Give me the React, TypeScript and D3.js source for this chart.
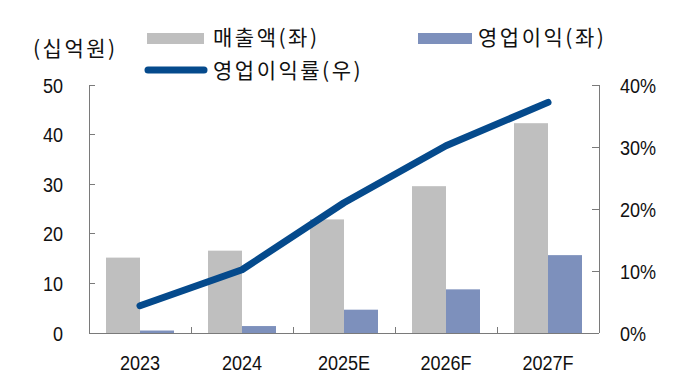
import React from "react";
import * as d3 from "d3";

const categories = ["2023", "2024", "2025E", "2026F", "2027F"];
const revenue = [15.2, 16.6, 22.9, 29.6, 42.3];
const opProfit = [0.5, 1.4, 4.7, 8.8, 15.7];
const opMargin = [0.044, 0.102, 0.21, 0.302, 0.372];
const leftTicks = [0, 10, 20, 30, 40, 50];
const rightTicks = [0, 0.1, 0.2, 0.3, 0.4];
const seriesKeys = ["rev", "op"];

const W = 680;
const H = 385;
const plot = { left: 89, right: 599, top: 85, bottom: 333 };
const GRAY = "#bfbfbf";
const BLUE = "#7d90bc";
const LINE = "#054a8c";
const AXIS = "#7a7a7a";
const NUM_FONT = "'Liberation Sans', Arial, sans-serif";
const KR_FONT = "'Noto Sans CJK KR', 'Noto Sans', sans-serif";

type TProps = {
  x: number;
  y: number;
  anchor?: "start" | "middle" | "end";
  font: string;
  size: number;
  spacing?: number;
  sx?: number;
  children: React.ReactNode;
};

function T({ x, y, anchor = "start", font, size, spacing = 0, sx = 1, children }: TProps) {
  return (
    <text
      transform={`translate(${x},${y}) scale(${sx},1)`}
      textAnchor={anchor}
      dominantBaseline="central"
      fontFamily={font}
      fontSize={size}
      letterSpacing={spacing}
      fill="#111"
    >
      {children}
    </text>
  );
}

export default function App() {
  const x = d3.scaleBand<string>().domain(categories).range([plot.left, plot.right]).padding(0);
  const bw = x.bandwidth();
  const inner = d3.scaleBand<string>().domain(seriesKeys).range([0, bw]).paddingInner(0).paddingOuter(0.5);
  const yL = d3.scaleLinear().domain([0, 50]).range([plot.bottom, plot.top]);
  const yR = d3.scaleLinear().domain([0, 0.4]).range([plot.bottom, plot.top]);
  const fmtPct = d3.format(".0%");

  const line = d3
    .line<number>()
    .x((_, i) => (x(categories[i]) as number) + bw / 2)
    .y((d) => yR(d));

  const NSX = 0.86;

  return (
    <svg width={W} height={H} style={{ position: "absolute", left: 0, top: 0, background: "#fff" }}>
      {categories.map((c, i) => (
        <g key={c}>
          <rect
            x={(x(c) as number) + (inner("rev") as number)}
            y={yL(revenue[i])}
            width={inner.bandwidth()}
            height={yL(0) - yL(revenue[i])}
            fill={GRAY}
          />
          <rect
            x={(x(c) as number) + (inner("op") as number)}
            y={yL(opProfit[i])}
            width={inner.bandwidth()}
            height={yL(0) - yL(opProfit[i])}
            fill={BLUE}
          />
        </g>
      ))}

      <g stroke={AXIS} strokeWidth={1} shapeRendering="crispEdges">
        <line x1={plot.left} x2={plot.left} y1={plot.top} y2={plot.bottom} />
        <line x1={plot.right} x2={plot.right} y1={plot.top} y2={plot.bottom} />
        <line x1={plot.left} x2={plot.right} y1={plot.bottom} y2={plot.bottom} />
        {leftTicks.map((t) => (
          <line key={"lt" + t} x1={plot.left} x2={plot.left + 6} y1={yL(t)} y2={yL(t)} />
        ))}
        {rightTicks.map((t) => (
          <line key={"rt" + t} x1={plot.right - 7} x2={plot.right} y1={yR(t)} y2={yR(t)} />
        ))}
        {categories.slice(1).map((c) => (
          <line key={"xt" + c} x1={x(c) as number} x2={x(c) as number} y1={plot.bottom} y2={plot.bottom - 6} />
        ))}
      </g>

      <path d={line(opMargin) || ""} fill="none" stroke={LINE} strokeWidth={7} strokeLinecap="round" strokeLinejoin="round" />

      {leftTicks.map((t) => (
        <T key={"ll" + t} x={63} y={yL(t)} anchor="end" font={NUM_FONT} size={21} sx={NSX}>
          {t}
        </T>
      ))}
      {rightTicks.map((t) => (
        <T key={"rl" + t} x={620} y={yR(t)} font={NUM_FONT} size={21} sx={NSX}>
          {fmtPct(t)}
        </T>
      ))}
      {categories.map((c) => (
        <T key={"xl" + c} x={(x(c) as number) + bw / 2} y={362} anchor="middle" font={NUM_FONT} size={21} sx={NSX}>
          {c}
        </T>
      ))}

      <T x={33} y={47} font={KR_FONT} size={21} spacing={2.5}>(십억원)</T>
      <rect x={147} y={33} width={57} height={11} fill={GRAY} />
      <T x={213} y={36} font={KR_FONT} size={21} spacing={2.5}>매출액(좌)</T>
      <rect x={418} y={33} width={54} height={11} fill={BLUE} />
      <T x={478} y={36} font={KR_FONT} size={21} spacing={2.5}>영업이익(좌)</T>
      <line x1={148} x2={204} y1={70} y2={70} stroke={LINE} strokeWidth={7} strokeLinecap="round" />
      <T x={213} y={69} font={KR_FONT} size={21} spacing={2.5}>영업이익률(우)</T>
    </svg>
  );
}
